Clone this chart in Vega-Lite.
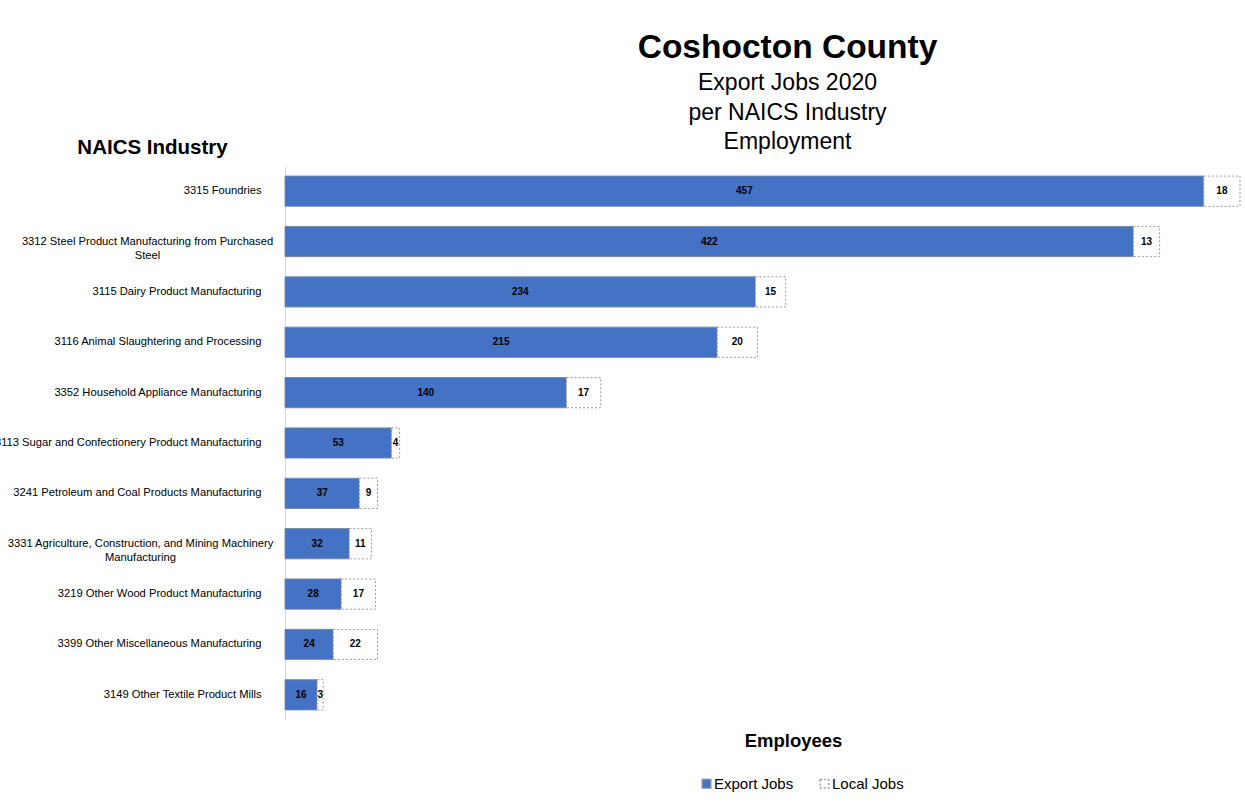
{
  "$schema": "https://vega.github.io/schema/vega-lite/v6.json",
  "autosize": "none",
  "width": 955,
  "height": 554,
  "padding": {"left": 285, "top": 166, "right": 5, "bottom": 86},
  "background": "white",
  "title": {
    "text": "Coshocton County",
    "subtitle": ["Export Jobs 2020", "per NAICS Industry", "Employment"],
    "anchor": "middle",
    "frame": "group",
    "dx": 25,
    "offset": -18,
    "font": "Liberation Sans",
    "fontSize": 33.5,
    "fontWeight": "bold",
    "color": "#000000",
    "subtitleFont": "Liberation Sans",
    "subtitleFontSize": 23,
    "subtitleColor": "#000000",
    "subtitleLineHeight": 29.5,
    "subtitlePadding": 7
  },
  "data": {
    "values": [
      {"industry": "3315 Foundries", "type": "Export Jobs", "jobs": 457},
      {"industry": "3315 Foundries", "type": "Local Jobs", "jobs": 18},
      {"industry": "3312 Steel Product Manufacturing from Purchased Steel", "type": "Export Jobs", "jobs": 422},
      {"industry": "3312 Steel Product Manufacturing from Purchased Steel", "type": "Local Jobs", "jobs": 13},
      {"industry": "3115 Dairy Product Manufacturing", "type": "Export Jobs", "jobs": 234},
      {"industry": "3115 Dairy Product Manufacturing", "type": "Local Jobs", "jobs": 15},
      {"industry": "3116 Animal Slaughtering and Processing", "type": "Export Jobs", "jobs": 215},
      {"industry": "3116 Animal Slaughtering and Processing", "type": "Local Jobs", "jobs": 20},
      {"industry": "3352 Household Appliance Manufacturing", "type": "Export Jobs", "jobs": 140},
      {"industry": "3352 Household Appliance Manufacturing", "type": "Local Jobs", "jobs": 17},
      {"industry": "3113 Sugar and Confectionery Product Manufacturing", "type": "Export Jobs", "jobs": 53},
      {"industry": "3113 Sugar and Confectionery Product Manufacturing", "type": "Local Jobs", "jobs": 4},
      {"industry": "3241 Petroleum and Coal Products Manufacturing", "type": "Export Jobs", "jobs": 37},
      {"industry": "3241 Petroleum and Coal Products Manufacturing", "type": "Local Jobs", "jobs": 9},
      {"industry": "3331 Agriculture, Construction, and Mining Machinery Manufacturing", "type": "Export Jobs", "jobs": 32},
      {"industry": "3331 Agriculture, Construction, and Mining Machinery Manufacturing", "type": "Local Jobs", "jobs": 11},
      {"industry": "3219 Other Wood Product Manufacturing", "type": "Export Jobs", "jobs": 28},
      {"industry": "3219 Other Wood Product Manufacturing", "type": "Local Jobs", "jobs": 17},
      {"industry": "3399 Other Miscellaneous Manufacturing", "type": "Export Jobs", "jobs": 24},
      {"industry": "3399 Other Miscellaneous Manufacturing", "type": "Local Jobs", "jobs": 22},
      {"industry": "3149 Other Textile Product Mills", "type": "Export Jobs", "jobs": 16},
      {"industry": "3149 Other Textile Product Mills", "type": "Local Jobs", "jobs": 3}
    ]
  },
  "encoding": {
    "y": {
      "field": "industry",
      "type": "nominal",
      "sort": null,
      "scale": {"paddingInner": 0.4, "paddingOuter": 0.2},
      "axis": {
        "title": "NAICS Industry",
        "titleAngle": 0,
        "titleFont": "Liberation Sans",
        "titleFontSize": 20.5,
        "titleFontWeight": "bold",
        "titleColor": "#000000",
        "titleAlign": "center",
        "titleBaseline": "middle",
        "titleX": -133,
        "titleY": -19,
        "ticks": false,
        "domainColor": "#d9d9d9",
        "domainWidth": 1,
        "labelAlign": {
          "condition": {"test": "indexof(datum.value, '3312') == 0 || indexof(datum.value, '3331') == 0", "value": "center"},
          "value": "right"
        },
        "labelPadding": {
          "condition": [
            {"test": "indexof(datum.value, '3312') == 0", "value": 138},
            {"test": "indexof(datum.value, '3331') == 0", "value": 145}
          ],
          "value": 24
        },
        "labelLimit": 400,
        "labelFont": "Liberation Sans",
        "labelFontSize": 11.2,
        "labelColor": "#000000",
        "labelLineHeight": 14,
        "labelExpr": "datum.value == '3312 Steel Product Manufacturing from Purchased Steel' ? ['3312 Steel Product Manufacturing from Purchased', 'Steel'] : datum.value == '3331 Agriculture, Construction, and Mining Machinery Manufacturing' ? ['3331 Agriculture, Construction, and Mining Machinery', 'Manufacturing'] : datum.value"
      }
    }
  },
  "layer": [
    {
      "mark": {"type": "bar", "strokeWidth": 1},
      "encoding": {
        "x": {
          "field": "jobs",
          "type": "quantitative",
          "stack": "zero",
          "scale": {"domain": [0, 475], "nice": false},
          "axis": {
            "title": "Employees",
            "grid": false,
            "labels": false,
            "ticks": false,
            "domain": false,
            "titleFont": "Liberation Sans",
            "titleFontSize": 18.5,
            "titleFontWeight": "bold",
            "titleColor": "#000000",
            "titleX": 508,
            "titleY": 20,
            "titleBaseline": "middle",
            "titleAlign": "center"
          }
        },
        "fill": {
          "field": "type",
          "type": "nominal",
          "scale": {"domain": ["Export Jobs", "Local Jobs"], "range": ["#4472C4", "#ffffff"]},
          "legend": {
            "title": null,
            "orient": "none",
            "direction": "horizontal",
            "legendX": 414,
            "legendY": 610,
            "symbolType": "square",
            "symbolSize": 72,
            "labelFont": "Liberation Sans",
            "labelFontSize": 15,
            "labelColor": "#000000",
            "labelOffset": 0,
            "columnPadding": 23
          }
        },
        "stroke": {
          "field": "type",
          "type": "nominal",
          "scale": {"domain": ["Export Jobs", "Local Jobs"], "range": ["#7b8aa6", "#9a9a9a"]},
          "legend": {
            "title": null,
            "orient": "none",
            "direction": "horizontal",
            "legendX": 414,
            "legendY": 610,
            "symbolType": "square",
            "symbolSize": 72,
            "labelFont": "Liberation Sans",
            "labelFontSize": 15,
            "labelColor": "#000000",
            "labelOffset": 0,
            "columnPadding": 23
          }
        },
        "strokeDash": {
          "field": "type",
          "type": "nominal",
          "scale": {"domain": ["Export Jobs", "Local Jobs"], "range": [[1, 0], [2, 2]]},
          "legend": {
            "title": null,
            "orient": "none",
            "direction": "horizontal",
            "legendX": 414,
            "legendY": 610,
            "symbolType": "square",
            "symbolSize": 72,
            "labelFont": "Liberation Sans",
            "labelFontSize": 15,
            "labelColor": "#000000",
            "labelOffset": 0,
            "columnPadding": 23
          }
        },
        "order": {"field": "type", "sort": "ascending"}
      }
    },
    {
      "transform": [
        {"stack": "jobs", "groupby": ["industry"], "sort": [{"field": "type", "order": "ascending"}], "as": ["s0", "s1"]},
        {"fold": ["s0", "s1"], "as": ["edge", "pos"]}
      ],
      "mark": {"type": "text", "font": "Liberation Sans", "fontSize": 10, "fontWeight": "bold", "color": "#000000"},
      "encoding": {
        "x": {"aggregate": "mean", "field": "pos", "type": "quantitative", "title": "Employees"},
        "detail": {"field": "type"},
        "text": {"field": "jobs", "type": "quantitative"}
      }
    }
  ],
  "config": {
    "view": {"stroke": null},
    "font": "Liberation Sans"
  }
}
